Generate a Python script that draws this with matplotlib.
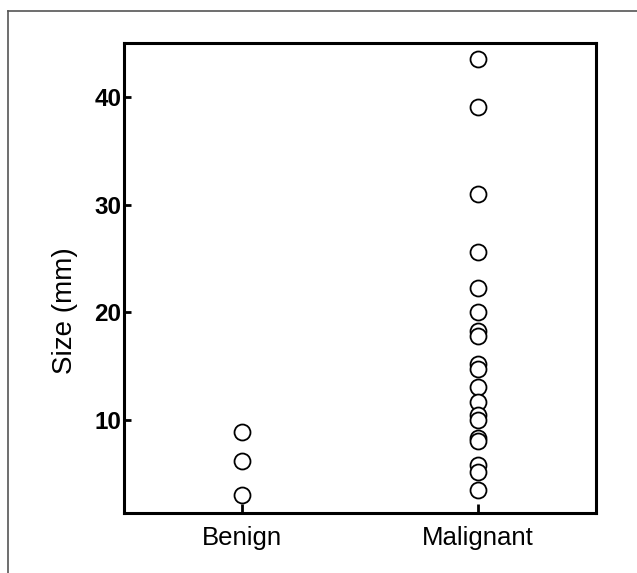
import matplotlib
matplotlib.use("Agg")
import matplotlib.pyplot as plt
from matplotlib.lines import Line2D

plt.rcParams['font.family'] = ['Liberation Sans', 'DejaVu Sans']

# groups and tumour sizes (mm)
groups = ['Benign', 'Malignant']
benign_size = [8.9, 6.2, 3.0]
malignant_size = [43.5, 39.1, 31.0, 25.6, 22.3, 20.0, 18.3, 17.8, 15.2, 14.7,
                  13.1, 11.7, 10.5, 10.0, 8.3, 8.1, 5.8, 5.2, 3.5]
y_ticks = [10, 20, 30, 40]

fig = plt.figure(figsize=(6.37, 5.73), dpi=100)
ax = fig.add_axes([124 / 637, 1 - 513 / 573, 472 / 637, 470 / 573])

for i, vals in enumerate([benign_size, malignant_size]):
    ax.plot([i] * len(vals), vals, linestyle='none', marker='o', ms=11.5,
            mfc='white', mec='black', mew=1.3)

ax.set_xlim(-0.5, 1.5)
ax.set_ylim(1.37, 45.0)
ax.set_xticks(range(len(groups)))
ax.set_xticklabels(groups, fontsize=18.5)
ax.set_yticks(y_ticks)
ax.set_yticklabels([str(t) for t in y_ticks], fontsize=17.5, fontweight='bold')
ax.tick_params(axis='y', direction='in', length=5, width=2, pad=2)
ax.tick_params(axis='x', direction='in', length=6.5, width=2, pad=9)
for s in ax.spines.values():
    s.set_linewidth(2.2)

ax.set_ylabel('Size (mm)', fontsize=20)
ax.yaxis.set_label_coords(-0.097, 0.43)

# thin grey frame round the figure (top and left sides visible)
fig.add_artist(Line2D([7.5 / 637, 7.5 / 637], [0, 1 - 11 / 573],
                      transform=fig.transFigure, color='#555555', lw=1.2))
fig.add_artist(Line2D([7.5 / 637, 1], [1 - 11 / 573, 1 - 11 / 573],
                      transform=fig.transFigure, color='#555555', lw=1.2))

fig.savefig('out.png', dpi=100)
